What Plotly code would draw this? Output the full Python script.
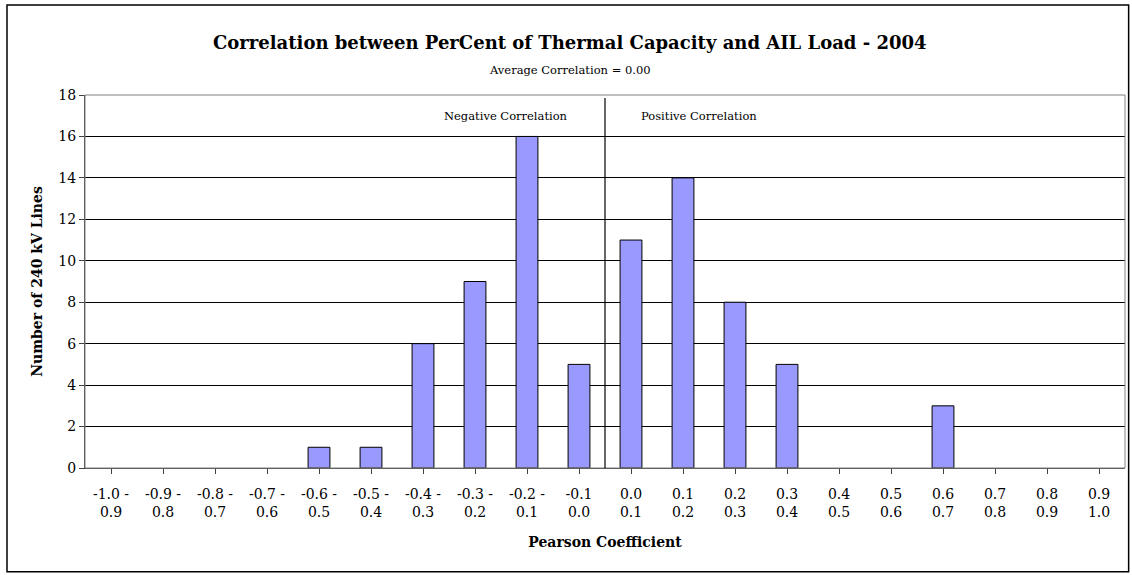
import plotly.graph_objects as go

# Histogram of Pearson coefficients per 240 kV line, binned in 0.1 steps
bin_lower = ["-1.0", "-0.9", "-0.8", "-0.7", "-0.6", "-0.5", "-0.4", "-0.3", "-0.2", "-0.1",
             "0.0", "0.1", "0.2", "0.3", "0.4", "0.5", "0.6", "0.7", "0.8", "0.9"]
bin_upper = ["0.9", "0.8", "0.7", "0.6", "0.5", "0.4", "0.3", "0.2", "0.1", "0.0",
             "0.1", "0.2", "0.3", "0.4", "0.5", "0.6", "0.7", "0.8", "0.9", "1.0"]
line_counts = [0, 0, 0, 0, 1, 1, 6, 9, 16, 5, 11, 14, 8, 5, 0, 0, 3, 0, 0, 0]

# two-line category labels, as the spreadsheet wrapped them
tick_text = []
for lo, hi in zip(bin_lower, bin_upper):
    first = lo + " -" if lo.startswith("-") and lo != "-0.1" else lo
    tick_text.append(first + "<br>" + hi)

FONT = "DejaVu Serif"
x_idx = list(range(len(bin_lower)))
# empty bins get no outline so nothing is drawn for them
outline_w = [1 if c > 0 else 0 for c in line_counts]

fig = go.Figure()
fig.add_trace(go.Bar(
    x=x_idx, y=line_counts,
    marker=dict(color="#9999FF", line=dict(color="#000000", width=outline_w)),
    hoverinfo="y",
))

fig.update_layout(
    width=1132, height=575,
    margin=dict(l=85, r=7, t=95, b=107),
    paper_bgcolor="white", plot_bgcolor="white",
    bargap=0.58,
    showlegend=False,
    font=dict(family=FONT, color="#000000", size=14),
    xaxis=dict(
        tickmode="array", tickvals=x_idx, ticktext=tick_text,
        range=[-0.5, 19.5],
        showgrid=False, zeroline=False,
        showline=True, linecolor="#404040", linewidth=1,
        ticks="outside", ticklen=5, tickcolor="#404040",
        tickson="boundaries",
        tickangle=0,
        ticklabelstandoff=8,
        tickfont=dict(family=FONT, size=14),
        title=dict(text="<b>Pearson Coefficient</b>", font=dict(family=FONT, size=14), standoff=18),
    ),
    yaxis=dict(
        range=[0, 18], dtick=2, tick0=0,
        showgrid=True, gridcolor="#000000", gridwidth=1,
        zeroline=False,
        showline=True, linecolor="#404040", linewidth=1,
        ticks="outside", ticklen=5, tickcolor="#404040",
        tickfont=dict(family=FONT, size=14),
        title=dict(text="<b>Number of 240 kV Lines</b>", font=dict(family=FONT, size=14), standoff=12),
    ),
)

# plot-area frame (top and right edges) and outer chart frame
fig.add_shape(type="rect", xref="paper", yref="paper", x0=0, x1=1, y0=0, y1=1,
              line=dict(color="#808080", width=1), layer="above")
fig.add_shape(type="rect", xref="paper", yref="paper",
              x0=-0.075, x1=1.0035, y0=-0.278, y1=1.2413,
              line=dict(color="#000000", width=1.5))

# divider between negative and positive coefficients
fig.add_shape(type="line", xref="x", yref="y", x0=9.5, x1=9.5, y0=0, y1=17.85,
              line=dict(color="#000000", width=1.2))

fig.add_annotation(text="<b>Correlation between PerCent of Thermal Capacity and AIL Load - 2004</b>",
                   xref="paper", yref="paper", x=0.466, y=1.14, showarrow=False,
                   xanchor="center", yanchor="middle", font=dict(family=FONT, size=18))
fig.add_annotation(text="Average Correlation = 0.00",
                   xref="paper", yref="paper", x=0.466, y=1.068, showarrow=False,
                   xanchor="center", yanchor="middle", font=dict(family=FONT, size=11.5))
fig.add_annotation(text="Negative Correlation", xref="x", yref="y", x=7.6, y=17.0,
                   showarrow=False, xanchor="center", yanchor="middle",
                   font=dict(family=FONT, size=11.5))
fig.add_annotation(text="Positive Correlation", xref="x", yref="y", x=11.3, y=17.0,
                   showarrow=False, xanchor="center", yanchor="middle",
                   font=dict(family=FONT, size=11.5))

fig.write_html("out.html")
